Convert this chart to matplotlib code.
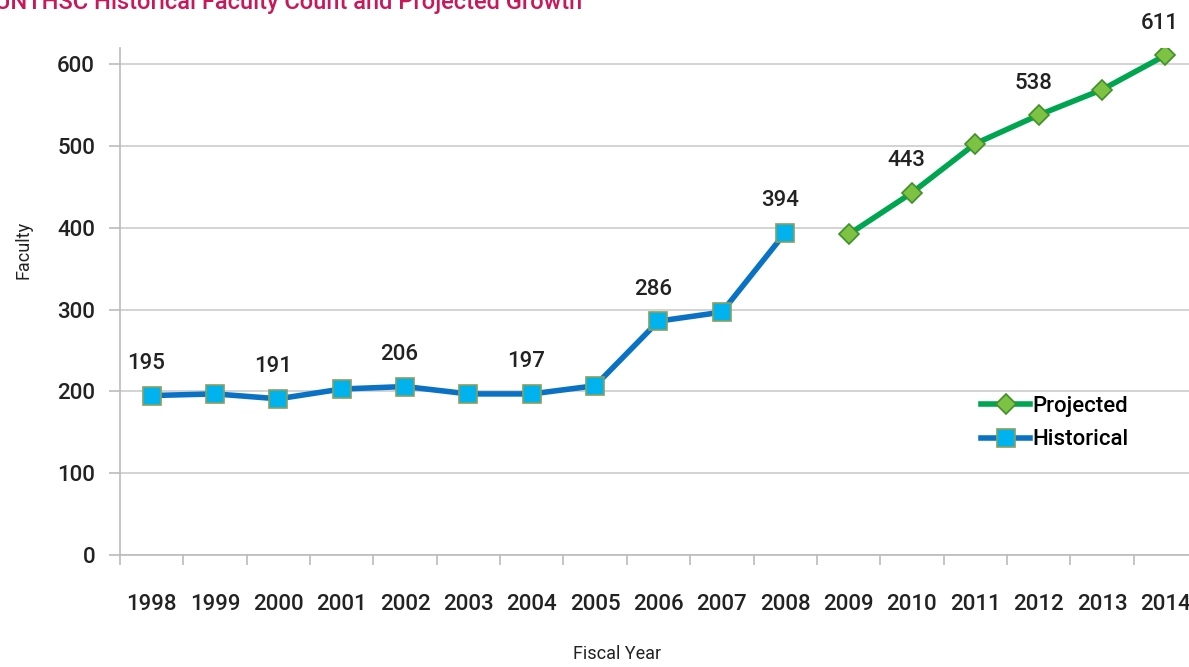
import matplotlib.pyplot as plt

years = ['1998', '1999', '2000', '2001', '2002', '2003', '2004', '2005', '2006',
         '2007', '2008', '2009', '2010', '2011', '2012', '2013', '2014']
historical = [195, 197, 191, 203, 206, 197, 197, 207, 286, 297, 394]
projected = [392, 443, 503, 538, 569, 611]
labelled = {0: 195, 2: 191, 4: 206, 6: 197, 8: 286, 10: 394, 12: 443, 14: 538, 16: 611}

plt.rcParams['font.family'] = ['Roboto', 'DejaVu Sans']
plt.rcParams['font.weight'] = 'medium'

fig = plt.figure(figsize=(11.89, 6.67), dpi=100)
ax = fig.add_axes([120 / 1189, 1 - 555 / 667, 1077 / 1189, 507 / 667])

hx = list(range(len(historical)))
px = list(range(len(historical), len(years)))
ax.plot(px, projected, color='#00a54f', lw=4, marker='D', ms=10,
        mfc='#7dc242', mec='#3f8f2a', mew=1.2, label='Projected', zorder=3)
ax.plot(hx, historical, color='#0a72c4', lw=4, marker='s', ms=13,
        mfc='#00b2ee', mec='#8aa05a', mew=1.2, label='Historical', zorder=3)

allv = historical + projected
for i, v in labelled.items():
    ax.annotate(str(v), (i, allv[i]), xytext=(-4, 23), textcoords='offset points',
                ha='center', va='center', fontsize=16, color='#222222')

ax.set_xlim(-0.5, len(years) - 0.5)
ax.set_ylim(0, 620)
ax.set_yticks(range(0, 700, 100))
ax.set_xticks(range(len(years)))
ax.set_xticklabels(years)
ax.set_xticks([i + 0.5 for i in range(-1, len(years))], minor=True)
ax.tick_params(axis='x', which='major', length=0, pad=28, labelsize=16, labelcolor='#222222')
ax.tick_params(axis='x', which='minor', length=7, color='#bbbbbb', width=1.2)
ax.tick_params(axis='y', length=8, color='#bbbbbb', width=1.2, pad=10,
               labelsize=16, labelcolor='#222222')
ax.grid(axis='y', color='#cccccc', lw=1.2)
for s in ['top', 'right']:
    ax.spines[s].set_visible(False)
for s in ['left', 'bottom']:
    ax.spines[s].set_color('#bbbbbb')
    ax.spines[s].set_linewidth(1.2)
ax.set_axisbelow(True)

ax.set_xlabel('Fiscal Year', fontsize=13, color='#222222')
ax.xaxis.set_label_coords(497 / 1077, -90 / 507)
ax.set_ylabel('Faculty', fontsize=13, color='#222222')
ax.yaxis.set_label_coords(-88 / 1077, 305 / 507)

ax.legend(loc='upper left', bbox_to_anchor=(850 / 1077, 170 / 507), frameon=False,
          fontsize=16, handlelength=2.2, handletextpad=0.1, labelspacing=0.55,
          borderpad=0)

fig.text(-0.004, 1 - 9 / 667, 'UNTHSC Historical Faculty Count and Projected Growth',
         color='#c8185a', fontsize=17, va='baseline', ha='left')

fig.savefig('out.png', dpi=100)
